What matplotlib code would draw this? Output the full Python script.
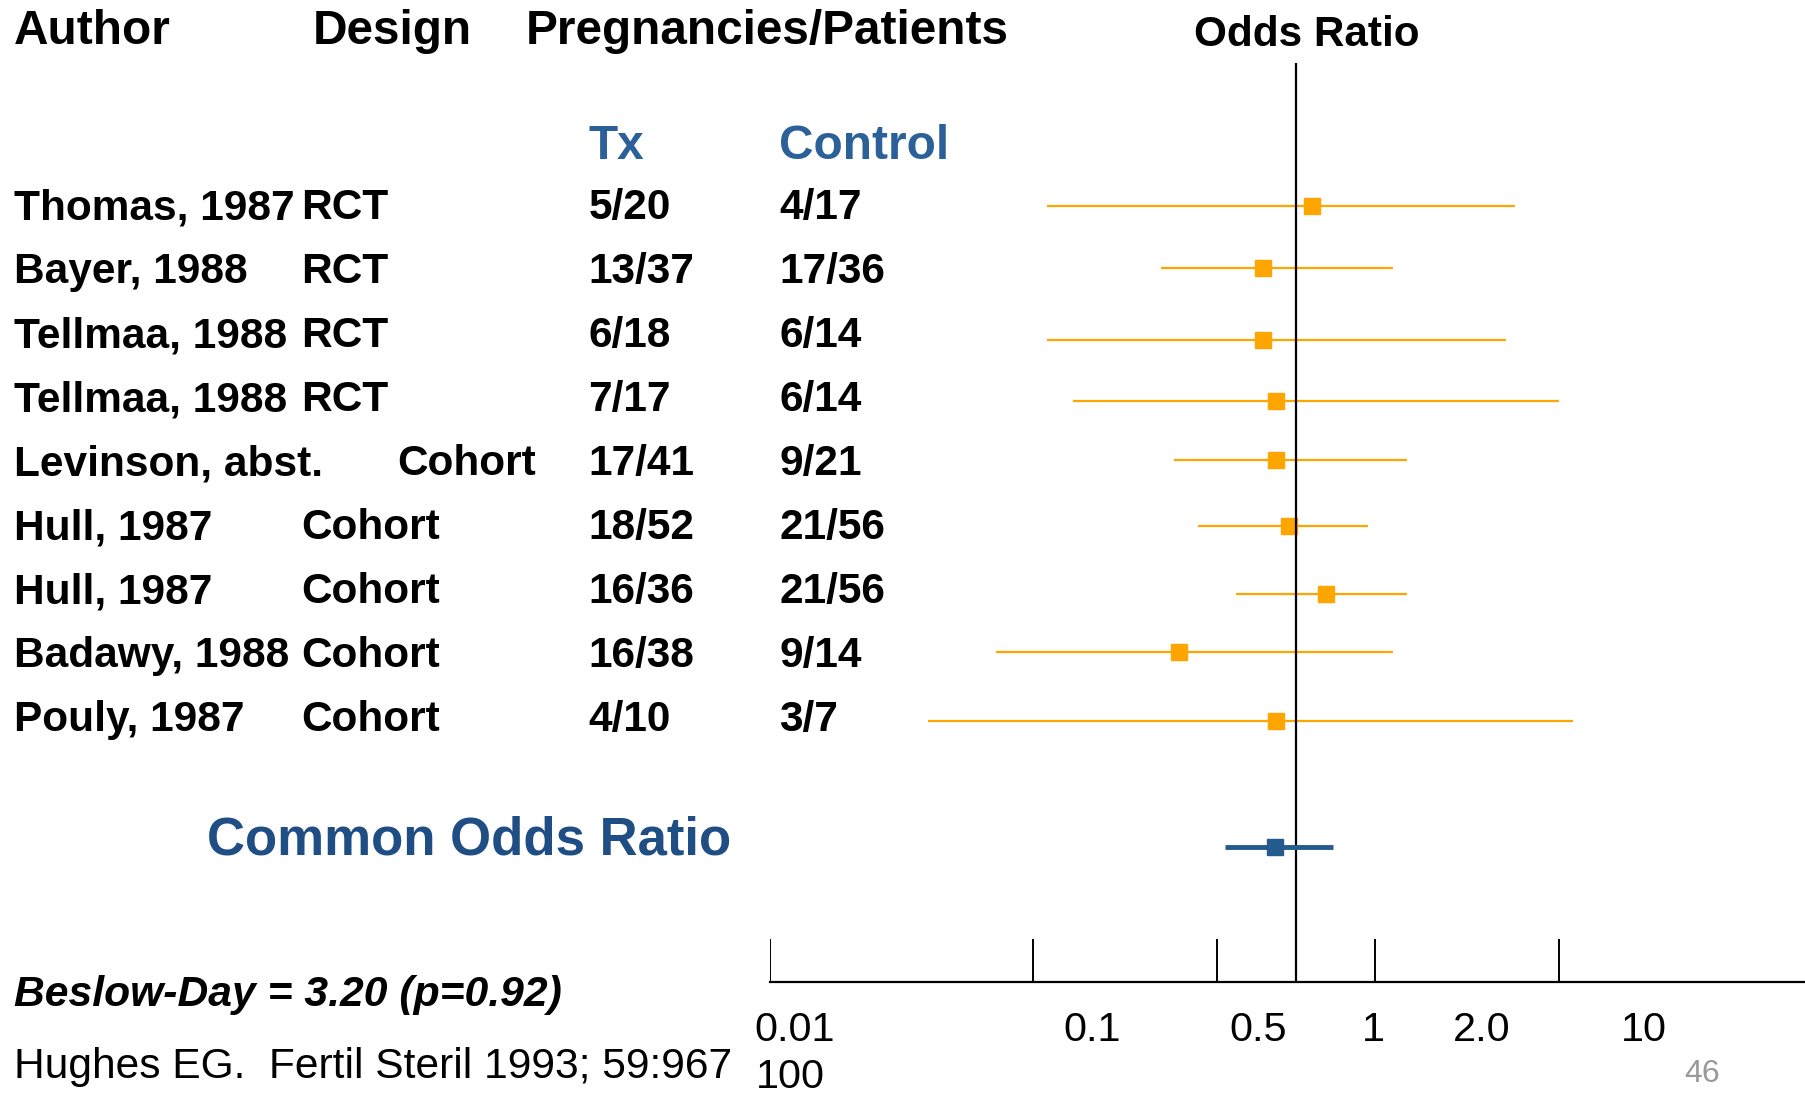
import matplotlib.pyplot as plt
from matplotlib import transforms

plt.rcParams['font.family'] = ['Liberation Sans', 'DejaVu Sans']

authors = ['Thomas, 1987', 'Bayer, 1988', 'Tellmaa, 1988', 'Tellmaa, 1988', 'Levinson, abst.',
           'Hull, 1987', 'Hull, 1987', 'Badawy, 1988', 'Pouly, 1987']
designs = ['RCT', 'RCT', 'RCT', 'RCT', 'Cohort', 'Cohort', 'Cohort', 'Cohort', 'Cohort']
tx = ['5/20', '13/37', '6/18', '7/17', '17/41', '18/52', '16/36', '16/38', '4/10']
control = ['4/17', '17/36', '6/14', '6/14', '9/21', '21/56', '21/56', '9/14', '3/7']
odds = [1.15, 0.75, 0.75, 0.84, 0.84, 0.94, 1.30, 0.36, 0.84]
ci_low = [0.113, 0.305, 0.113, 0.142, 0.344, 0.425, 0.592, 0.072, 0.040]
ci_high = [6.8, 2.33, 6.26, 10.0, 2.63, 1.87, 2.63, 2.33, 11.3]
# the marks on the slide sit a little off the text rows
mark_rows = [0, 0.97, 2.09, 3.05, 3.98, 5.0, 6.07, 6.97, 8.05]
pooled, pooled_low, pooled_high = 0.834, 0.535, 1.38
tick_vals = [0.01, 0.1, 0.5, 2, 10]
tick_labels = ['0.01', '0.1', '0.5', '1', '2.0', '10']

W, H = 1568.0, 950.0
def fx(px):
    return px / W
def fy(py):
    return 1 - py / H

fig = plt.figure(figsize=(18.05, 10.94), dpi=100)
ax = fig.add_axes([fx(669), fy(853), fx(1568) - fx(669), fy(55) - fy(853)])
ax.set_xscale('log')
ax.set_xlim(0.01, 86)
ax.set_ylim(12.14, -2.23)
for s in ['top', 'right', 'left']:
    ax.spines[s].set_visible(False)
ax.spines['bottom'].set_linewidth(1.6)
ax.set_xticks([])
ax.set_xticks([], minor=True)
ax.set_yticks([])

rows = list(range(len(authors)))
orange = '#FFA500'
ax.hlines(mark_rows, ci_low, ci_high, color=orange, lw=1.6)
ax.plot(odds, mark_rows, 's', color=orange, ms=11, ls='none')
ax.axvline(1, color='black', lw=1.6)
ax.vlines(tick_vals, 11.46, 12.14, color='black', lw=1.4)

blue_c = '#245A8E'
ax.hlines(10.03, pooled_low, pooled_high, color=blue_c, lw=3.5)
ax.plot([pooled], [10.03], 's', color=blue_c, ms=12)

# text columns
trans = transforms.blended_transform_factory(fig.transFigure, ax.transData)
bold = dict(fontweight='bold', fontsize=30.5, va='baseline')
for i in rows:
    y = i + 0.21
    fig.text(fx(12), y, authors[i], transform=trans, **bold)
    fig.text(fx(345 if authors[i].startswith('Levinson') else 262), y, designs[i],
             transform=trans, **bold)
    fig.text(fx(511), y, tx[i], transform=trans, **bold)
    fig.text(fx(677), y, control[i], transform=trans, **bold)

hdr = dict(fontweight='bold', fontsize=34.4, va='baseline')
fig.text(fx(12), fy(38), 'Author', **hdr)
fig.text(fx(272), fy(38), 'Design', **hdr)
fig.text(fx(457), fy(38), 'Pregnancies/Patients', **hdr)
fig.text(fx(1037), fy(40), 'Odds Ratio', fontweight='bold', fontsize=30.4, va='baseline')
fig.text(fx(511), fy(138), 'Tx', color='#2B6098', **hdr)
fig.text(fx(677), fy(138), 'Control', color='#2B6098', **hdr)
fig.text(fx(180), fy(742), 'Common Odds Ratio', color='#1F4E84', fontweight='bold',
         fontsize=38, va='baseline')
fig.text(fx(12), fy(874), 'Beslow-Day = 3.20 (p=0.92)', fontweight='bold', style='italic',
         fontsize=30.7, va='baseline')
fig.text(fx(12), fy(936), 'Hughes EG.  Fertil Steril 1993; 59:967', fontsize=30.6, va='baseline')

label_x = [655, 924, 1068, 1183, 1262, 1408]
for lx, lab in zip(label_x, tick_labels):
    fig.text(fx(lx), fy(904), lab, fontsize=29.8, va='baseline')
fig.text(fx(657), fy(945), '100', fontsize=29.8, va='baseline')
fig.text(fx(1463), fy(940), '46', fontsize=23, color='#999999', va='baseline')

fig.savefig('out.png', dpi=100)
